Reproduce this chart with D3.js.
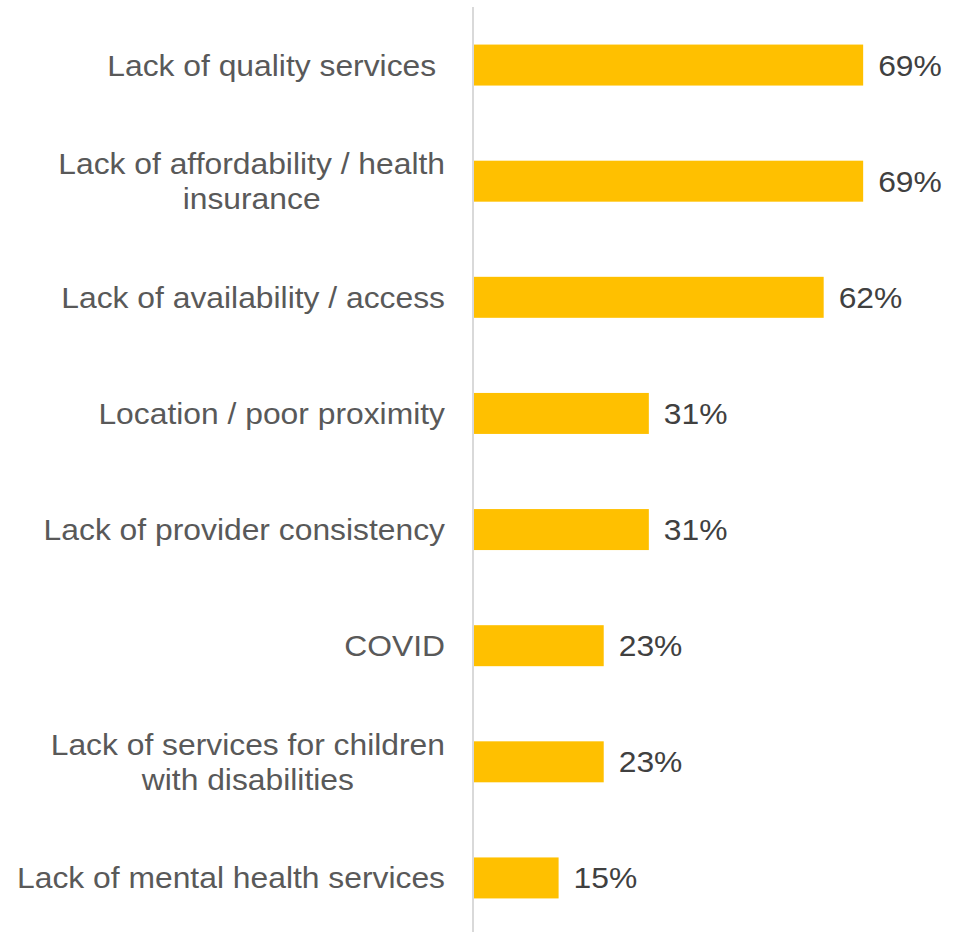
<!DOCTYPE html>
<html>
<head>
<meta charset="utf-8">
<script src="https://cdn.jsdelivr.net/npm/d3@7"></script>
<style>
  html, body { margin: 0; padding: 0; background: #fff; }
  svg text { font-family: "Liberation Sans", Arial, sans-serif; }
</style>
</head>
<body>
<div id="chart"></div>
<script>
// horizontal bar chart: barriers to services

// DATA
const categories = [
  ["Lack of quality services "],
  ["Lack of affordability / health", "insurance"],
  ["Lack of availability / access"],
  ["Location / poor proximity"],
  ["Lack of provider consistency"],
  ["COVID"],
  ["Lack of services for children", "with disabilities"],
  ["Lack of mental health services"]
];
const values = [69, 69, 62, 31, 31, 23, 23, 15];
const valueLabels = ["69%", "69%", "62%", "31%", "31%", "23%", "23%", "15%"];

// CONSTANTS
const width = 956;
const height = 932;
const axisX = 473;
const labelRight = 445;
const fontSize = 29.5;
const stretch = 1.079;   // text in the picture is a bit wider than tall
const lineGap = 35;
const barColor = "#FFC000";

const svg = d3.select("#chart")
  .append("svg")
  .attr("width", width)
  .attr("height", height);

const y = d3.scaleBand()
  .domain(d3.range(categories.length))
  .range([7, 936])
  .paddingInner(0.647)
  .paddingOuter(0.3235);

const x = d3.scaleLinear()
  .domain([0, 100])
  .range([474, 474 + 564]);

// bars
svg.selectAll(".bar")
  .data(values)
  .join("rect")
  .attr("class", "bar")
  .attr("x", x(0))
  .attr("y", (d, i) => y(i))
  .attr("width", d => x(d) - x(0))
  .attr("height", y.bandwidth())
  .attr("fill", barColor);

// vertical axis line
svg.append("line")
  .attr("x1", axisX).attr("x2", axisX)
  .attr("y1", 7).attr("y2", height)
  .attr("stroke", "#d9d9d9")
  .attr("stroke-width", 2);

// value labels
svg.selectAll(".val")
  .data(values)
  .join("text")
  .attr("class", "val")
  .attr("transform", (d, i) => `translate(${x(d) + 15},${y(i) + y.bandwidth() / 2}) scale(${stretch},1)`)
  .attr("dy", "0.355em")
  .attr("font-size", fontSize)
  .attr("fill", "#404040")
  .text((d, i) => valueLabels[i]);

// category labels, multi-line ones centred inside their block
const cat = svg.selectAll(".cat")
  .data(categories)
  .join("g")
  .attr("class", "cat")
  .attr("transform", (d, i) => `translate(${labelRight},${y(i) + y.bandwidth() / 2}) scale(${stretch},1)`);

cat.each(function (lines) {
  const g = d3.select(this);
  const n = lines.length;
  const texts = g.selectAll("text")
    .data(lines)
    .join("text")
    .attr("font-size", fontSize)
    .attr("fill", "#595959")
    .style("white-space", "pre")
    .attr("y", (d, j) => (j - (n - 1) / 2) * lineGap)
    .attr("dy", "0.355em")
    .text(d => d);
  if (n === 1) {
    texts.attr("text-anchor", "end").attr("x", 0);
  } else {
    let blockW = 0;
    texts.each(function () { blockW = Math.max(blockW, this.getComputedTextLength()); });
    texts.attr("text-anchor", "middle").attr("x", -blockW / 2);
  }
});
</script>
</body>
</html>
